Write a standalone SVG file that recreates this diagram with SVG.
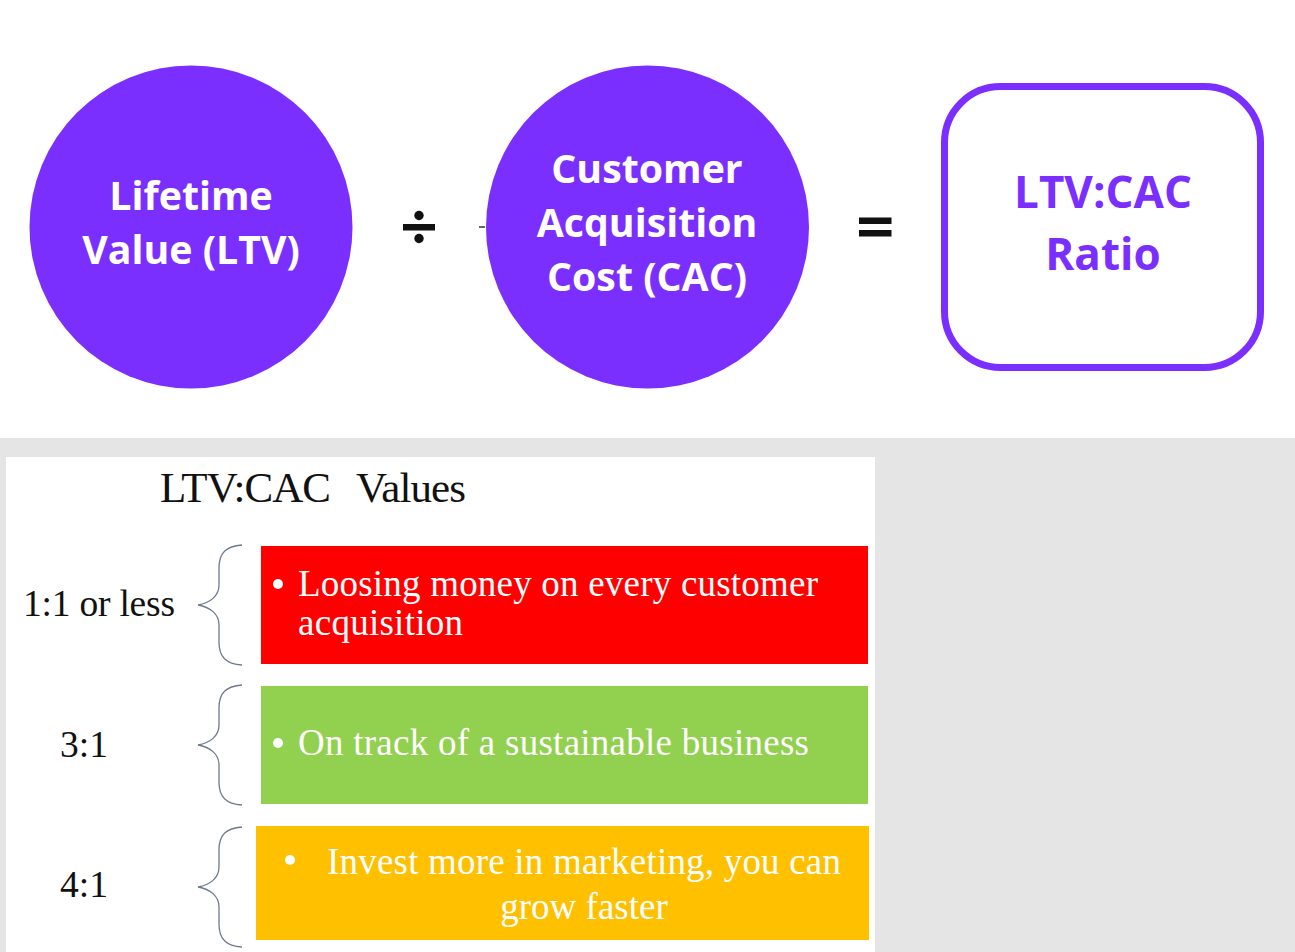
<svg xmlns="http://www.w3.org/2000/svg" width="1295" height="952" viewBox="0 0 1295 952">
<style>
.t{font-family:"Open Sans","Noto Sans",sans-serif;font-weight:700;text-anchor:middle}
.w{fill:#fff;font-size:39.3px}
.p{fill:#7b2fff;font-size:44px}
.s{font-family:"Liberation Serif","Times New Roman",serif}
.k{fill:#111;font-size:37.500px}
.l{fill:#fff;font-size:37px}
.b{fill:none;stroke:#6f7b8c;stroke-width:1.3}
.c{fill:#7b2fff}
</style>
<rect width="1295" height="952" fill="#fff"/>
<rect y="438" width="1295" height="514" fill="#e5e5e5"/>
<rect x="6" y="457" width="869" height="495" fill="#fff"/>
<g id="node-ltv"><circle class="c" cx="191" cy="227" r="161.500"/>
<text class="t w" x="191" y="210">Lifetime</text><text class="t w" x="191" y="264">Value (LTV)</text></g>
<g id="op-divide"><rect x="403" y="224" width="32" height="6.500" fill="#111"/><circle cx="419" cy="215.500" r="4.700" fill="#111"/><circle cx="419" cy="238.500" r="4.700" fill="#111"/></g>
<g id="node-cac"><circle class="c" cx="647.500" cy="227" r="161.500"/>
<text class="t w" x="647" y="183">Customer</text><text class="t w" x="647" y="237">Acquisition</text><text class="t w" x="647" y="291">Cost (CAC)</text></g>
<g id="op-equals"><rect x="859" y="217.500" width="32.500" height="6.500" fill="#111"/><rect x="859" y="230" width="32.500" height="6.500" fill="#111"/></g>
<g id="node-ratio"><rect x="944.500" y="86.500" width="316" height="281" rx="56" fill="#fff" stroke="#7b2fff" stroke-width="7"/>
<text class="t p" x="1103" y="208">LTV:CAC</text><text class="t p" x="1103" y="270">Ratio</text></g>
<text class="s" y="502" font-size="43" fill="#111"><tspan x="160" textLength="171">LTV:CAC</tspan><tspan x="356" textLength="110">Values</tspan></text>
<g id="row-1"><text class="s k" x="23" y="616" textLength="152">1:1 or less</text>
<path class="b" d="M242 545C226 546 219 553 219 568V585C219 596 210 603 198 605C210 607 219 614 219 625V642C219 657 226 664 242 665"/>
<rect x="261" y="546" width="607" height="118" fill="#ff0000"/>
<circle cx="278" cy="584" r="5" fill="#fff"/>
<text class="s l" x="298" y="596" textLength="520">Loosing money on every customer</text><text class="s l" x="298" y="635" textLength="165">acquisition</text></g>
<g id="row-2"><text class="s k" x="60" y="757">3:1</text>
<path class="b" d="M242 685C226 686 219 693 219 708V725C219 736 210 743 198 745C210 747 219 754 219 765V782C219 797 226 804 242 805"/>
<rect x="261" y="686" width="607" height="118" fill="#92d050"/>
<circle cx="278" cy="743" r="5" fill="#fff"/>
<text class="s l" x="298" y="755" textLength="511">On track of a sustainable business</text></g>
<g id="row-3"><text class="s k" x="60" y="897">4:1</text>
<path class="b" d="M242 827C226 828 219 835 219 850V867C219 878 210 885 198 887C210 889 219 896 219 907V924C219 939 226 946 242 947"/>
<rect x="256" y="826" width="613" height="114" fill="#ffc000"/>
<circle cx="290" cy="860" r="5" fill="#fff"/>
<text class="s l" x="327" y="874" textLength="514">Invest more in marketing, you can</text><text class="s l" x="584" y="919" text-anchor="middle">grow faster</text></g>
<g id="connectors"><path d="M479 227H485" stroke="#333" stroke-width="1.500"/></g>
</svg>
